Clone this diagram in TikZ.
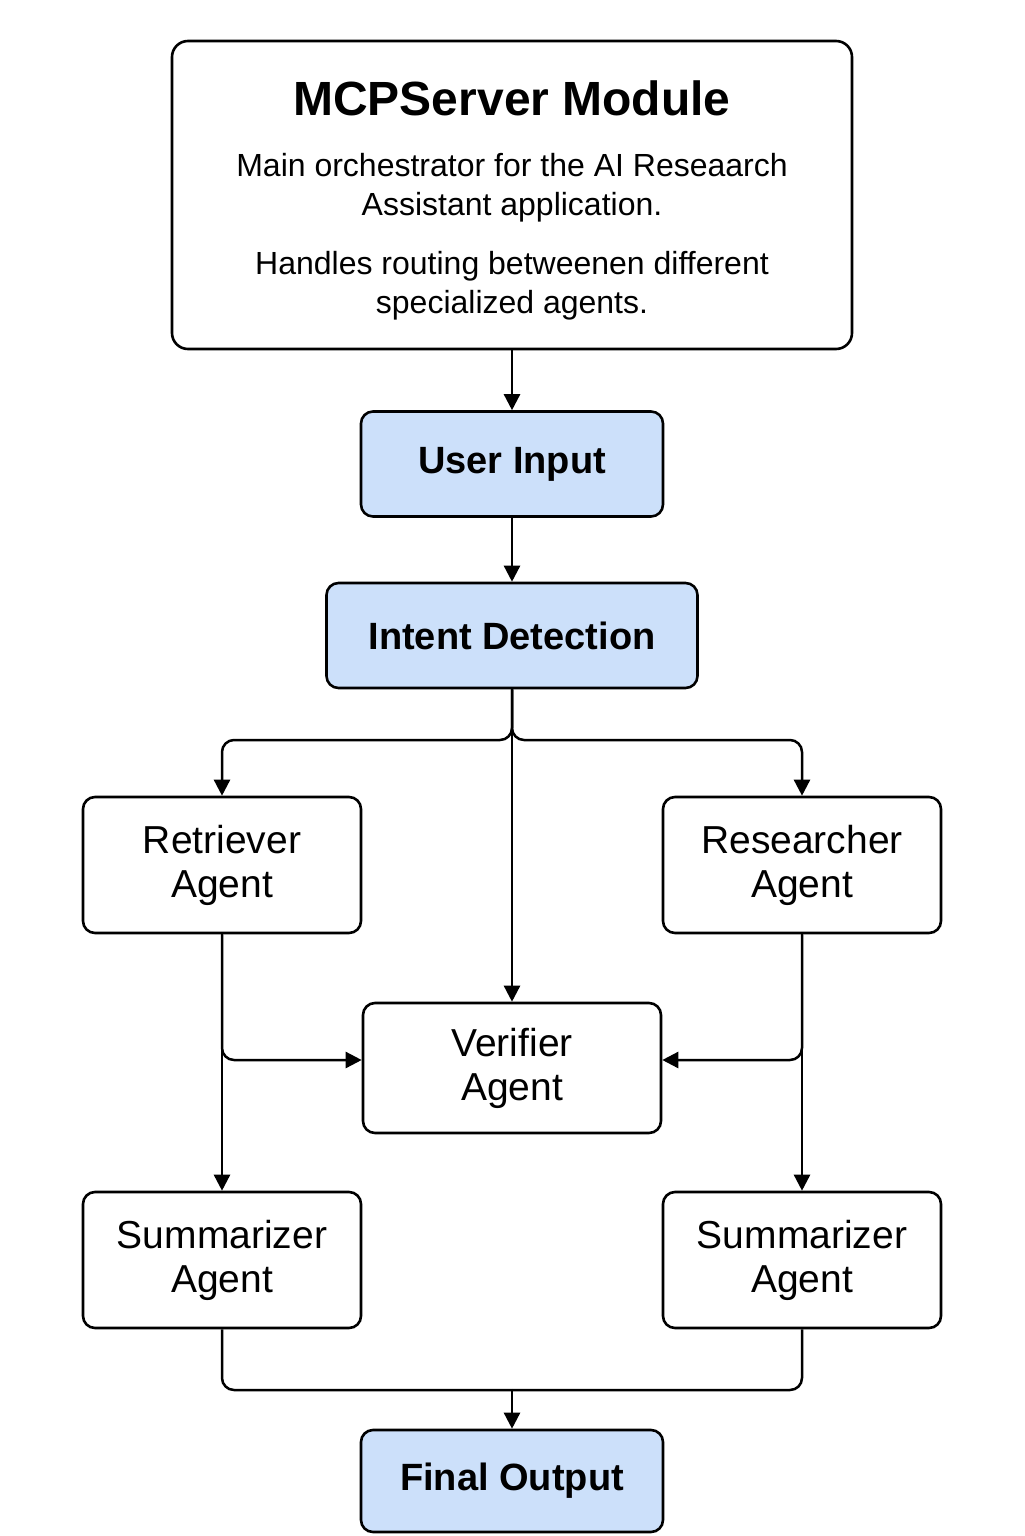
\documentclass[tikz,border=0pt]{standalone}
\usepackage{fontspec}
\setmainfont{Liberation Sans}
\usetikzlibrary{arrows.meta,positioning}
\definecolor{stageblue}{HTML}{CCE0FA}

\begin{document}
\begin{tikzpicture}[
  x=0.5pt,
  y=-0.5pt,
  >={Triangle[length=8pt,width=8pt]},
  module/.style={
    draw=black,
    fill=white,
    line width=1.3pt,
    rounded corners=8pt,
    minimum width=340pt,
    minimum height=154pt,
    inner sep=0pt
  },
  stage/.style={
    draw=black,
    fill=stageblue,
    line width=1.3pt,
    rounded corners=6pt,
    minimum height=52.5pt,
    inner sep=0pt,
    font=\fontsize{19}{22}\selectfont\bfseries
  },
  agent/.style={
    draw=black,
    fill=white,
    line width=1.3pt,
    rounded corners=6pt,
    minimum width=139pt,
    minimum height=68pt,
    inner sep=0pt,
    align=center,
    font=\fontsize{19.5}{22}\selectfont
  },
  heading/.style={font=\fontsize{24}{28}\selectfont\bfseries},
  blurb/.style={font=\fontsize{16}{19.5}\selectfont, align=center},
  link/.style={->, draw=black, line width=1.25pt, rounded corners=6pt},
  joint/.style={draw=black, line width=1.25pt, rounded corners=6pt}
]
\useasboundingbox (0,0) rectangle (1024,1536);

% ---------------------------------------------------------------------------
% Orchestrator module
% ---------------------------------------------------------------------------
\node[module] (mcp) at (512,195) {};
\node[heading] (mcptitle) at (512,98) {MCPServer Module};
\node[blurb] (mcpmain) at (512,188) {Main orchestrator for the AI Reseaarch\\Assistant application.};
\node[blurb] (mcproute) at (512,286) {Handles routing betweenen different\\specialized agents.};

% ---------------------------------------------------------------------------
% Pipeline stages and agents
% ---------------------------------------------------------------------------
\node[stage, minimum width=151pt] (input) at (512,464) {\raisebox{-1.5pt}{User Input}};
\node[stage, minimum width=185.5pt] (intent) at (512,635.5) {Intent Detection};

\node[agent] (retriever) at (222,865) {Retriever\\Agent};
\node[agent] (researcher) at (802,865) {Researcher\\Agent};
\node[agent, minimum width=149pt, minimum height=65pt] (verifier) at (512,1068) {Verifier\\Agent};
\node[agent] (sumleft) at (222,1260) {Summarizer\\Agent};
\node[agent] (sumright) at (802,1260) {Summarizer\\Agent};

\node[stage, minimum width=151pt, minimum height=51pt] (output) at (512,1481) {Final Output};

% ---------------------------------------------------------------------------
% Connectors
% ---------------------------------------------------------------------------
\coordinate (split) at (512,740);
\coordinate (merge) at (512,1390);

\draw[link] (mcp.south) -- (input.north);
\draw[link] (input.south) -- (intent.north);

\draw[link] (intent.south) -- (split) -| (retriever.north);
\draw[link] (intent.south) -- (split) -| (researcher.north);
\draw[link] (intent.south) -- (verifier.north);

\draw[link] (retriever.south) -- (sumleft.north);
\draw[link] (retriever.south) |- ([yshift=4pt]verifier.west);
\draw[link] (researcher.south) -- (sumright.north);
\draw[link] (researcher.south) |- ([yshift=4pt]verifier.east);

\draw[joint] (sumleft.south) |- (merge);
\draw[joint] (sumright.south) |- (merge);
\draw[link] (merge) -- (output.north);

\end{tikzpicture}
\end{document}
